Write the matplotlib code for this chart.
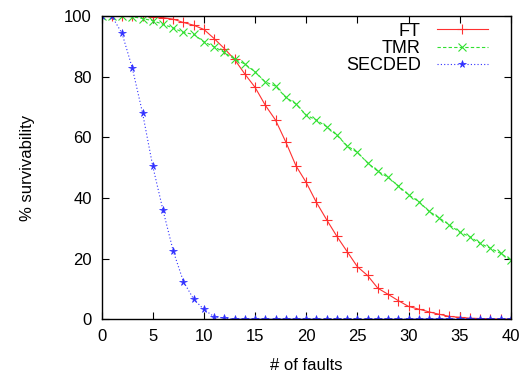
import matplotlib
matplotlib.use("Agg")
import matplotlib.pyplot as plt

# --- data ---
faults = list(range(0, 41))

ft = [100, 100, 100, 100, 100, 99.8, 99.5, 99.0, 97.9, 97.0,
      95.6, 92.6, 89.3, 85.7, 80.9, 76.5, 70.6, 65.7, 58.5, 50.6,
      45.1, 38.5, 32.8, 27.3, 22.3, 17.3, 14.4, 10.2, 8.2, 6.1,
      4.2, 3.3, 2.4, 1.6, 0.9, 0.6, 0.3, 0.2, 0.1, 0.0, 0.0]

tmr = [100, 100, 100, 99.8, 99.2, 98.5, 97.3, 96.1, 94.6, 94.0,
       91.5, 89.9, 88.0, 85.8, 84.2, 81.6, 78.3, 76.9, 73.2, 71.0,
       67.3, 65.7, 63.5, 60.7, 57.2, 55.0, 51.6, 48.8, 46.8, 44.0,
       41.0, 38.8, 35.6, 33.4, 31.1, 28.7, 27.2, 25.0, 23.4, 21.7, 19.5]

secded = [100, 100, 94.3, 82.9, 68.1, 50.5, 36.0, 22.5, 12.4, 6.6,
          3.2, 0.8, 0.3] + [0.0] * 28

x_ticks = [0, 5, 10, 15, 20, 25, 30, 35, 40]
y_ticks = [0, 20, 40, 60, 80, 100]

plt.rcParams['font.family'] = ['Liberation Sans', 'DejaVu Sans']
plt.rcParams['font.size'] = 12

fig = plt.figure(figsize=(5.25, 3.75), dpi=100)
ax = fig.add_axes([0.1935, 0.149, 0.7795, 0.808])

ax.plot(faults, ft, color='#ff3030', linestyle='-', linewidth=0.8,
        marker='+', markersize=6.5, markeredgewidth=0.8, label='FT')
ax.plot(faults, tmr, color='#30e030', linestyle=(0, (3, 2)), linewidth=0.8,
        marker='x', markersize=5.5, markeredgewidth=0.8, label='TMR')
ax.plot(faults, secded, color='#3030ff', linestyle=(0, (1, 2)), linewidth=0.8,
        marker='*', markersize=5.5, markeredgewidth=0.5, label='SECDED')

ax.set_xlim(0, 40)
ax.set_ylim(0, 100)
ax.set_xticks(x_ticks)
ax.set_yticks(y_ticks)
ax.tick_params(direction='in', top=True, right=True, length=5, width=0.8,
               labelsize=12, pad=7)
for s in ax.spines.values():
    s.set_linewidth(1.0)

ax.set_xlabel('# of faults', fontsize=12, labelpad=10)
ax.set_ylabel('% survivability', fontsize=12, labelpad=21)

ax.legend(loc='upper right', bbox_to_anchor=(0.974, 1.02), frameon=False,
          markerfirst=False, handlelength=2.8, fontsize=13,
          labelspacing=0.02, handletextpad=0.9, borderpad=0.2)
for t in ax.get_legend().get_texts():
    t.set_ha('right')

fig.savefig('out.png', dpi=100)
